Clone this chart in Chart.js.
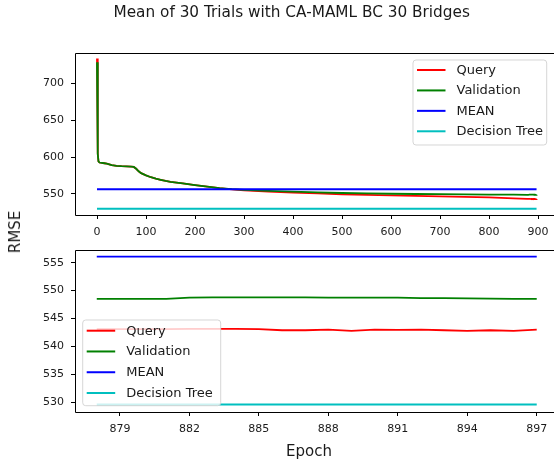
<!DOCTYPE html>
<html>
<head>
<meta charset="utf-8">
<script src="https://cdn.jsdelivr.net/npm/chart.js@4/dist/chart.umd.min.js"></script>
<style>
  html, body { margin:0; padding:0; background:#fff; overflow:hidden; }
  #wrap { position:relative; width:554px; height:459px; overflow:hidden; font-family:"DejaVu Sans", sans-serif; }
  canvas { position:absolute; left:0; }
  .txt { position:absolute; color:#1a1a1a; white-space:nowrap; font-family:"DejaVu Sans", sans-serif; }
</style>
</head>
<body>
<div id="wrap">
  <canvas id="c1" width="560" height="240" style="top:0"></canvas>
  <canvas id="c2" width="560" height="219" style="top:240px"></canvas>
  <div class="txt" id="title" style="font-size:15.3px; left:291.7px; top:12px; transform:translate(-50%,-50%);">Mean of 30 Trials with CA-MAML BC 30 Bridges</div>
  <div class="txt" id="ylab" style="font-size:15px; left:15px; top:231.5px; transform:translate(-50%,-50%) rotate(-90deg);">RMSE</div>
  <div class="txt" id="xlab" style="font-size:15px; left:309px; top:450.7px; transform:translate(-50%,-50%);">Epoch</div>
</div>
<script>
// ---- data ----
const seriesNames = ["Query", "Validation", "MEAN", "Decision Tree"];
const headEpochs = [0,1,2,3,5,10,15,20,25,30,40,50,60,70,75,80,85,90,100,110,120,130,140,150,175,200,225,250,275,300,350,400,450,500,550,600,650,700,750,800,850];
const headQuery = [734,660,605,594,592.5,592,591.5,591,590,589,588,587.5,587.3,587,586.5,584,580.5,578,575,572.5,570.5,569,567.5,566.3,564,561.8,559.8,557.6,556,554.8,553,551.6,550.5,549.3,548.5,547.7,547.1,546.4,545.8,545,543.8];
const headValidation = [729,655,604,594,592.5,592,591.5,591,590,589,588,587.5,587.3,587,586.5,584,580.5,578,575,572.5,570.5,569,567.5,566.3,564,561.8,559.8,557.8,556.4,555.4,554,552.8,551.8,551,550.4,550,549.7,549.4,549.1,548.9,548.7];
const tailEpochs = [878,879,880,881,882,883,884,885,886,887,888,889,890,891,892,893,894,895,896,897];
const tailQuery = [543.1,543.1,543.1,543.1,543.15,543.15,543.15,543.1,542.9,542.9,543.0,542.8,543.0,542.95,543.0,542.9,542.8,542.9,542.8,543.0];
const tailValidation = [548.5,548.5,548.5,548.5,548.75,548.8,548.8,548.8,548.78,548.78,548.75,548.75,548.75,548.75,548.65,548.65,548.62,548.55,548.52,548.5];
const meanRMSE = 556.1;
const treeRMSE = 529.6;
const topXTicks = [0,100,200,300,400,500,600,700,800,900];
const topYTicks = [550,600,650,700];
const bottomXTicks = [879,882,885,888,891,894,897];
const bottomYTicks = [530,535,540,545,550,555];

// ---- build ----
const colors = ["#ff0000", "#008000", "#0000ff", "#00bfbf"];
const pts = (xs, ys) => xs.map((x, i) => ({x: x, y: ys[i]}));
const allEpochs = headEpochs.concat(tailEpochs);

function makeDatasets(epochs, q, v) {
  const first = epochs[0], last = epochs[epochs.length - 1];
  const ys = [q, v, [meanRMSE, meanRMSE], [treeRMSE, treeRMSE]];
  return seriesNames.map((name, i) => ({
    label: name,
    data: i < 2 ? pts(epochs, ys[i]) : pts([first, last], ys[i]),
    borderColor: colors[i],
    backgroundColor: colors[i],
    borderWidth: 1.8,
    pointRadius: 0,
    tension: 0,
    fill: false,
    order: 4 - i
  }));
}

const boxPlugin = {
  id: 'boxPlugin',
  afterDraw(chart) {
    const a = chart.chartArea, ctx = chart.ctx;
    const l = Math.round(a.left) + 0.5, t = Math.round(a.top) + 0.5, b = Math.round(a.bottom) + 0.5, r = a.right;
    ctx.save();
    ctx.strokeStyle = '#000';
    ctx.lineWidth = 1;
    ctx.beginPath();
    ctx.moveTo(r, t); ctx.lineTo(l, t); ctx.lineTo(l, b); ctx.lineTo(r, b);
    ctx.stroke();
    ctx.restore();
  }
};

const legendPlugin = {
  id: 'mplLegend',
  afterDatasetsDraw(chart, args, opts) {
    const ctx = chart.ctx;
    ctx.save();
    const r = 3;
    const {x, y, w, h} = opts;
    ctx.beginPath();
    ctx.moveTo(x + r, y);
    ctx.lineTo(x + w - r, y); ctx.quadraticCurveTo(x + w, y, x + w, y + r);
    ctx.lineTo(x + w, y + h - r); ctx.quadraticCurveTo(x + w, y + h, x + w - r, y + h);
    ctx.lineTo(x + r, y + h); ctx.quadraticCurveTo(x, y + h, x, y + h - r);
    ctx.lineTo(x, y + r); ctx.quadraticCurveTo(x, y, x + r, y);
    ctx.closePath();
    ctx.fillStyle = 'rgba(255,255,255,0.8)';
    ctx.fill();
    ctx.strokeStyle = 'rgba(204,204,204,0.8)';
    ctx.lineWidth = 1;
    ctx.stroke();
    ctx.font = '13px "DejaVu Sans"';
    ctx.textBaseline = 'middle';
    chart.data.datasets.forEach((ds, i) => {
      const ry = opts.row0 + i * opts.step;
      ctx.strokeStyle = ds.borderColor;
      ctx.lineWidth = 2;
      ctx.beginPath();
      ctx.moveTo(x + 4, ry); ctx.lineTo(x + 32.5, ry);
      ctx.stroke();
      ctx.fillStyle = '#1a1a1a';
      ctx.fillText(ds.label, x + 43.5, ry + 0.5);
    });
    ctx.restore();
  }
};

function makeOptions(xr, yr, xt, yt, xh, padTop, legend) {
  const tickFont = {family: 'DejaVu Sans', size: 11};
  return {
    responsive: false,
    animation: false,
    devicePixelRatio: 1,
    layout: {padding: {left: 0, right: 1.5, top: padTop, bottom: 0}},
    plugins: {legend: {display: false}, tooltip: {enabled: false}, mplLegend: legend},
    scales: {
      x: {
        type: 'linear', min: xr[0], max: xr[1],
        afterBuildTicks: s => { s.ticks = xt.map(v => ({value: v})); },
        afterFit: s => { s.height = xh; s.paddingLeft = 0; s.paddingRight = 0; },
        grid: {drawOnChartArea: false, drawTicks: true, tickLength: 4, tickColor: '#000', tickWidth: 1},
        border: {display: false},
        ticks: {font: tickFont, color: '#1a1a1a', padding: 7, maxRotation: 0, autoSkip: false, callback: v => String(v)}
      },
      y: {
        type: 'linear', min: yr[0], max: yr[1],
        afterBuildTicks: s => { s.ticks = yt.map(v => ({value: v})); },
        afterFit: s => { s.width = 75; s.paddingTop = 0; s.paddingBottom = 0; },
        grid: {drawOnChartArea: false, drawTicks: true, tickLength: 4, tickColor: '#000', tickWidth: 1},
        border: {display: false},
        ticks: {font: tickFont, color: '#1a1a1a', padding: 7, autoSkip: false, callback: v => String(v)}
      }
    }
  };
}

new Chart(document.getElementById('c1'), {
  type: 'line',
  data: {datasets: makeDatasets(allEpochs, headQuery.concat(tailQuery), headValidation.concat(tailValidation))},
  options: makeOptions([-44.9, 941.8], [521.1, 741.5], topXTicks, topYTicks, 25, 53,
    {x: 413, y: 60, w: 133.7, h: 85, row0: 70, step: 20.43}),
  plugins: [legendPlugin, boxPlugin]
});

new Chart(document.getElementById('c2'), {
  type: 'line',
  data: {datasets: makeDatasets(tailEpochs, tailQuery, tailValidation)},
  options: makeOptions([877.06, 897.94], [528.26, 557.27], bottomXTicks, bottomYTicks, 47, 10,
    {x: 82.7, y: 80, w: 138, h: 85.7, row0: 90.7, step: 20.77}),
  plugins: [legendPlugin, boxPlugin]
});
</script>
</body>
</html>
